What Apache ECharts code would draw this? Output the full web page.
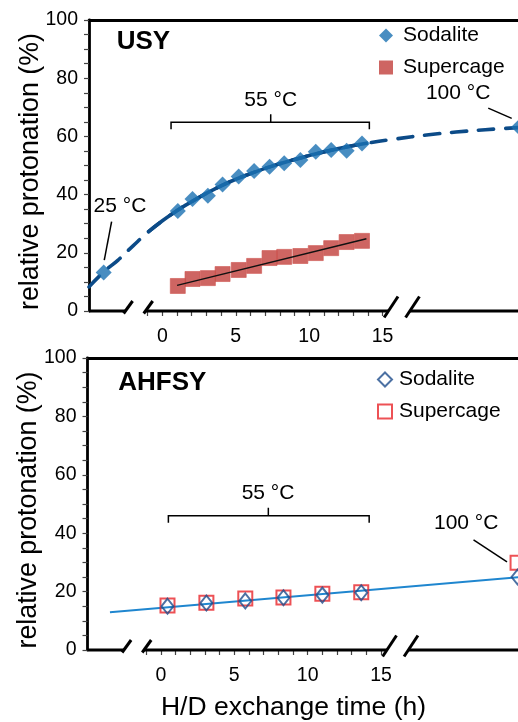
<!DOCTYPE html>
<html>
<head>
<meta charset="utf-8">
<script src="https://cdn.jsdelivr.net/npm/echarts@6/dist/echarts.min.js"></script>
<style>
  html, body { margin: 0; padding: 0; background: #fff; }
  #chart { width: 518px; height: 722px; }
</style>
</head>
<body>
<div id="chart"></div>
<script>
// ---- USY: H/D exchange at 55 °C plus single runs at 25 °C and 100 °C ----
const usyTime = [1.05, 2.05, 3.1, 4.1, 5.2, 6.25, 7.3, 8.3, 9.4, 10.45, 11.5, 12.55, 13.6];
const usySodalite = [34.4, 38.5, 39.6, 43.5, 46.2, 48.1, 49.6, 50.8, 51.9, 54.7, 55.3, 55.1, 57.6];
const usySupercage = [8.6, 11.0, 11.3, 12.7, 14.1, 15.5, 18.2, 18.6, 18.9, 19.9, 21.6, 23.7, 24.1];
const usySodalite25C = [-4.0, 13.2];
const usySodalite100C = [24.3, 63.2];
// fitted sodalite curve (time, value)
const usyFitTime = [-5, -4, -3, -2, -1, 0, 1, 2, 4, 6, 8, 10, 12, 14, 16, 18, 20, 22, 24.5];
const usyFitValue = [8.3, 13.4, 17.6, 22.4, 27.0, 31.0, 34.5, 37.6, 43.0, 47.2, 50.6, 53.4, 55.8, 57.7, 59.2, 60.5, 61.5, 62.3, 63.1];
// linear trend of the supercage data
const usySupercageFit = [[1.0, 8.8], [13.9, 24.8]];

// ---- AHFSY ----
const ahfsyTime = [0.45, 3.1, 5.75, 8.35, 11.0, 13.65];
const ahfsySodalite = [15.0, 16.1, 16.8, 17.9, 18.8, 19.6];
const ahfsySupercage = [15.2, 16.2, 17.6, 18.0, 19.3, 19.8];
const ahfsySodalite100C = [24.3, 25.0];
const ahfsySupercage100C = [24.3, 29.9];
const ahfsyFit = [[-3.47, 12.9], [24.5, 25.0]];

// ---- axes ----
const timeMin = -5, timeMax = 24.5;
const xTickLabels = [0, 5, 10, 15];
const xMinorTicks = [-1, 0, 1, 2, 3, 4, 5, 6, 7, 8, 9, 10, 11, 12, 13, 14, 15];
const yTickLabels = [0, 20, 40, 60, 80, 100];
// pieces of the broken time axis
const axisSegments = [[-5, -2.52], [-1.15, 15.4], [16.86, 24.5]];

// ---- temperature notes ----
const usyNotes = [[7.38, 72.5, '55 °C'], [20.15, 74.8, '100 °C'], [-2.89, 36.1, '25 °C']];
const usyLeaders = [[-3.46, 30.7, -3.96, 17.5], [22.2, 69.7, 23.8, 66.2]];
const usyBracket = [[0.59, 14.1, 7.38, 64.9]];
const ahfsyNotes = [[7.3, 53.8, '55 °C'], [20.8, 43.5, '100 °C']];
const ahfsyLeaders = [[21.3, 37.7, 23.58, 30.2]];
const ahfsyBracket = [[0.51, 14.19, 7.32, 46.0]];

const FONT = '"Liberation Sans", Arial, Helvetica, sans-serif';
const BLUE = '#1a71b2';
const FIT_BLUE = '#0c4b88';
const RED = '#c23f3b';
const OPEN_BLUE = '#1f4e8c';
const OPEN_RED = '#e8262a';

const chart = echarts.init(document.getElementById('chart'), null, { renderer: 'canvas' });

const grids = [
  { left: 89, top: 20, width: 433, height: 291, outerBoundsMode: 'none' },
  { left: 87.5, top: 358, width: 433, height: 292, outerBoundsMode: 'none' }
];

const xAxes = [];
const yAxes = [];
grids.forEach(function (g, i) {
  xAxes.push({
    type: 'value', gridIndex: i, min: timeMin, max: timeMax, position: 'bottom',
    axisLine: { show: false, onZero: false },
    axisTick: { show: true, customValues: xMinorTicks, length: 5, lineStyle: { color: '#444', width: 1.2 } },
    axisLabel: { customValues: xTickLabels, margin: 16, fontSize: 19.5, color: '#000', fontFamily: FONT },
    splitLine: { show: false },
    name: i === 1 ? 'H/D exchange time (h)' : '',
    nameLocation: 'middle', nameGap: 44, nameMoveOverlap: false,
    nameTextStyle: { fontSize: 26.5, color: '#000', fontFamily: FONT, padding: [0, 21, 0, 0] }
  });
  xAxes.push({
    type: 'value', gridIndex: i, min: timeMin, max: timeMax, position: 'top',
    axisLine: { show: true, onZero: false, lineStyle: { color: '#000', width: 2.8 } },
    axisTick: { show: false }, axisLabel: { show: false }, splitLine: { show: false }
  });
  yAxes.push({
    type: 'value', gridIndex: i, min: 0, max: 100, interval: 5, position: 'left',
    axisLine: { show: true, onZero: false, lineStyle: { color: '#000', width: 2.8 } },
    axisTick: { show: true, length: 5, lineStyle: { color: '#444', width: 1.2 } },
    axisLabel: { customValues: yTickLabels, margin: 11, fontSize: 19.5, color: '#000', fontFamily: FONT },
    splitLine: { show: false },
    name: 'relative protonation (%)', nameLocation: 'middle', nameGap: 45, nameMoveOverlap: false,
    nameTextStyle: { fontSize: 26.8, color: '#000', fontFamily: FONT, padding: [0, 12, 0, 0] }
  });
});

function pairs(xs, ys) { return xs.map(function (x, k) { return [x, ys[k]]; }); }

// broken x-axis line with "//" marks at each break
function brokenAxis(gi) {
  const slash = [{ below: 2.5, above: 10, slope: 0.72 }, { below: 6.5, above: 14.5, slope: 0.66 }];
  return {
    type: 'custom', xAxisIndex: gi * 2, yAxisIndex: gi, silent: true, z: 20,
    data: axisSegments,
    renderItem: function (params, api) {
      const i = params.dataIndex;
      const a = api.coord([api.value(0), 0]);
      const b = api.coord([api.value(1), 0]);
      const kids = [{ type: 'line', shape: { x1: a[0], y1: a[1], x2: b[0], y2: b[1] },
        style: { stroke: '#000', lineWidth: 2.8 } }];
      function mark(p, s) {
        kids.push({ type: 'line', shape: {
          x1: p[0] - s.slope * s.below, y1: p[1] + s.below,
          x2: p[0] + s.slope * s.above, y2: p[1] - s.above },
          style: { stroke: '#000', lineWidth: 3 } });
      }
      if (i > 0) mark(a, slash[i - 1]);
      if (i < axisSegments.length - 1) mark(b, slash[i]);
      return { type: 'group', children: kids };
    }
  };
}

function notesSeries(gi, notes) {
  return {
    type: 'custom', xAxisIndex: gi * 2, yAxisIndex: gi, silent: true, z: 15,
    data: notes.map(function (n) { return [n[0], n[1]]; }),
    renderItem: function (params, api) {
      const p = api.coord([api.value(0), api.value(1)]);
      return { type: 'text', x: p[0], y: p[1],
        style: { text: notes[params.dataIndex][2], fill: '#000', font: '21px ' + FONT,
          textAlign: 'center', textVerticalAlign: 'middle' } };
    }
  };
}

function leaderSeries(gi, leaders) {
  return {
    type: 'custom', xAxisIndex: gi * 2, yAxisIndex: gi, silent: true, z: 15,
    data: leaders,
    renderItem: function (params, api) {
      const a = api.coord([api.value(0), api.value(1)]);
      const b = api.coord([api.value(2), api.value(3)]);
      return { type: 'line', shape: { x1: a[0], y1: a[1], x2: b[0], y2: b[1] },
        style: { stroke: '#000', lineWidth: 1.5 } };
    }
  };
}

function bracketSeries(gi, brackets) {
  return {
    type: 'custom', xAxisIndex: gi * 2, yAxisIndex: gi, silent: true, z: 15,
    data: brackets,
    renderItem: function (params, api) {
      const l = api.coord([api.value(0), api.value(3)]);
      const r = api.coord([api.value(1), api.value(3)]);
      const m = api.coord([api.value(2), api.value(3)]);
      return { type: 'polyline', shape: { points: [
          [l[0], l[1] + 7], [l[0], l[1]], [m[0], m[1]], [m[0], m[1] - 8], [m[0], m[1]], [r[0], r[1]], [r[0], r[1] + 7]] },
        style: { stroke: '#000', lineWidth: 1.5, fill: null } };
    }
  };
}

const fitAll = pairs(usyFitTime, usyFitValue);
const fitCore = fitAll.filter(function (p) { return p[0] >= -1 && p[0] <= 14; });

const series = [
  // USY
  { type: 'line', xAxisIndex: 0, yAxisIndex: 0, data: fitAll, smooth: true, showSymbol: false, silent: true, z: 2,
    lineStyle: { color: FIT_BLUE, width: 3.6, type: [15, 12], cap: 'round' } },
  { type: 'line', xAxisIndex: 0, yAxisIndex: 0, data: fitCore, smooth: true, showSymbol: false, silent: true, z: 2,
    lineStyle: { color: FIT_BLUE, width: 3.6 } },
  { name: 'Sodalite', type: 'scatter', xAxisIndex: 0, yAxisIndex: 0, z: 3,
    data: [usySodalite25C].concat(pairs(usyTime, usySodalite), [usySodalite100C]),
    symbol: 'diamond', symbolSize: 16, itemStyle: { color: BLUE } },
  { name: 'Supercage', type: 'scatter', xAxisIndex: 0, yAxisIndex: 0, z: 3,
    data: pairs(usyTime, usySupercage),
    symbol: 'rect', symbolSize: 15, itemStyle: { color: RED, borderColor: '#cf5a55', borderWidth: 0.8 } },
  { type: 'line', xAxisIndex: 0, yAxisIndex: 0, data: usySupercageFit, showSymbol: false, silent: true, z: 4,
    lineStyle: { color: '#111', width: 1.5 } },
  brokenAxis(0),
  notesSeries(0, usyNotes), leaderSeries(0, usyLeaders), bracketSeries(0, usyBracket),

  // AHFSY
  { type: 'line', xAxisIndex: 2, yAxisIndex: 1, data: ahfsyFit, showSymbol: false, silent: true, z: 2,
    lineStyle: { color: '#1f86cf', width: 2 } },
  { name: 'Supercage', type: 'scatter', xAxisIndex: 2, yAxisIndex: 1, z: 3,
    data: pairs(ahfsyTime, ahfsySupercage).concat([ahfsySupercage100C]),
    symbol: 'rect', symbolSize: 14,
    itemStyle: { color: 'rgba(255,255,255,0)', borderColor: OPEN_RED, borderWidth: 2 } },
  { name: 'Sodalite', type: 'scatter', xAxisIndex: 2, yAxisIndex: 1, z: 4,
    data: pairs(ahfsyTime, ahfsySodalite).concat([ahfsySodalite100C]),
    symbol: 'diamond', symbolSize: [12, 15],
    itemStyle: { color: 'rgba(255,255,255,0)', borderColor: OPEN_BLUE, borderWidth: 2 } },
  brokenAxis(1),
  notesSeries(1, ahfsyNotes), leaderSeries(1, ahfsyLeaders), bracketSeries(1, ahfsyBracket)
];

const legendTextTop = { fontSize: 21, fontFamily: FONT, color: '#000', lineHeight: 22, padding: [0, 0, 0, 5] };
const legendTextBottom = { fontSize: 21, fontFamily: FONT, color: '#000', lineHeight: 22, padding: [0, 0, 0, 2] };

chart.setOption({
  animation: false,
  backgroundColor: '#fff',
  grid: grids,
  xAxis: xAxes,
  yAxis: yAxes,
  legend: [
    { orient: 'vertical', left: 374, top: 19.5, itemWidth: 14, itemHeight: 14, itemGap: 10,
      selectedMode: false, textStyle: legendTextTop,
      data: [
        { name: 'Sodalite', icon: 'diamond', itemStyle: { color: BLUE, borderWidth: 0 } },
        { name: 'Supercage', icon: 'rect', itemStyle: { color: RED, borderWidth: 0 } }
      ] },
    { orient: 'vertical', left: 372, top: 363.5, itemWidth: 14, itemHeight: 14, itemGap: 10,
      selectedMode: false, textStyle: legendTextBottom,
      data: [
        { name: 'Sodalite', icon: 'diamond', itemStyle: { color: 'rgba(255,255,255,0)', borderColor: OPEN_BLUE, borderWidth: 2 } },
        { name: 'Supercage', icon: 'rect', itemStyle: { color: 'rgba(255,255,255,0)', borderColor: OPEN_RED, borderWidth: 2 } }
      ] }
  ],
  graphic: [
    { type: 'text', x: 116.7, y: 41.7, style: { text: 'USY', font: 'bold 26px ' + FONT, fill: '#000', textAlign: 'left', textVerticalAlign: 'middle' } },
    { type: 'text', x: 118.3, y: 382.5, style: { text: 'AHFSY', font: 'bold 26px ' + FONT, fill: '#000', textAlign: 'left', textVerticalAlign: 'middle' } }
  ],
  series: series
});
</script>
</body>
</html>
